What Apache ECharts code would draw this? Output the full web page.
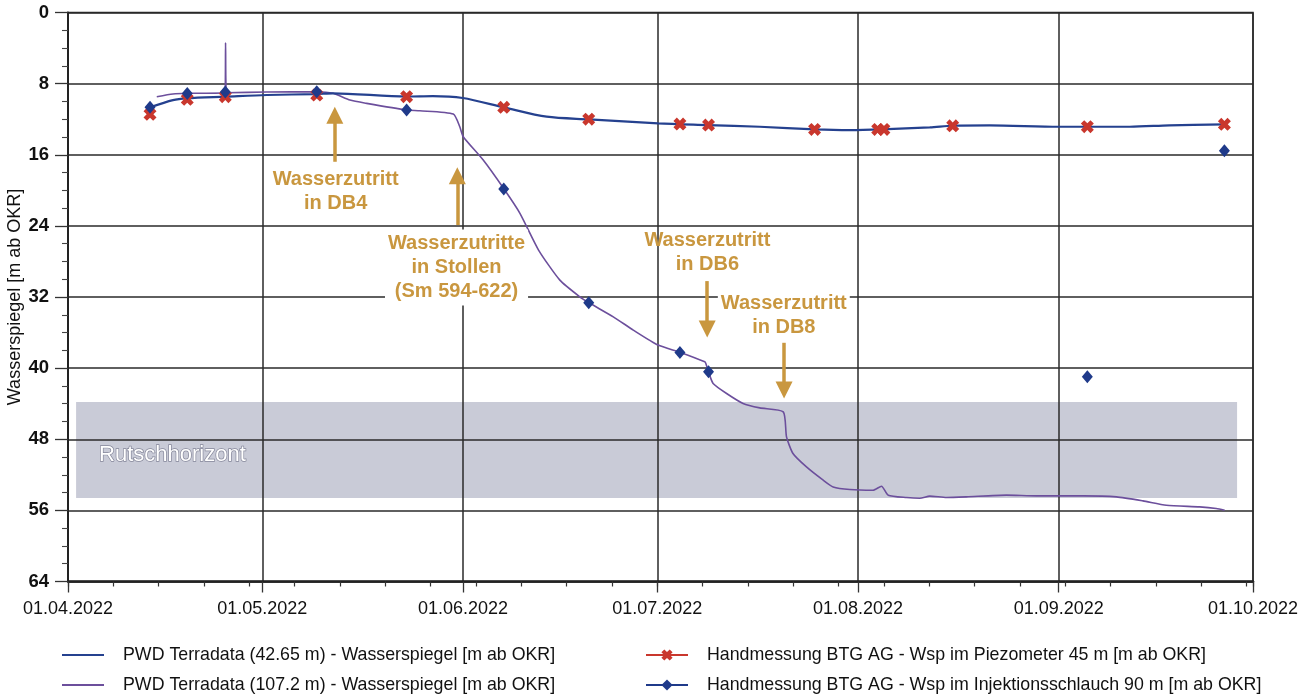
<!DOCTYPE html>
<html>
<head>
<meta charset="utf-8">
<script src="https://cdn.jsdelivr.net/npm/echarts@6/dist/echarts.min.js"></script>
<style>html,body{margin:0;padding:0;background:#fff}#c{width:1309px;height:698px}</style>
</head>
<body>
<div id="c"></div>
<script>
// ---------- data ----------
const xStart = '2022-04-01';
const xEnd = '2022-10-01';
const weekTickDays = 183;            // length of the weekly tick ruler (days from 01.04.2022)

const seriesNames = [
  'PWD Terradata (42.65 m) - Wasserspiegel [m ab OKR]',
  'PWD Terradata (107.2 m) - Wasserspiegel [m ab OKR]',
  'Handmessung BTG AG - Wsp im Piezometer 45 m [m ab OKR]',
  'Handmessung BTG AG - Wsp im Injektionsschlauch 90 m [m ab OKR]'
];

const pwd4265Dates = ['2022-04-13 16:00','2022-04-17 05:00','2022-04-19 09:00','2022-04-25 08:00','2022-05-01 17:00','2022-05-09 10:00','2022-05-11 22:00','2022-05-23 07:00','2022-05-27 08:00','2022-05-31 23:00','2022-06-07 08:00','2022-06-13 22:00','2022-06-20 11:00','2022-07-01 03:00','2022-07-08 19:00','2022-07-16 20:00','2022-07-25 08:00','2022-07-30 18:00','2022-08-04 16:00','2022-08-12 02:00','2022-08-15 15:00','2022-08-21 08:00','2022-09-01 00:00','2022-09-05 08:00','2022-09-11 23:00','2022-09-18 02:00','2022-09-26 15:00'];
const pwd4265Values = [10.67,9.85,9.65,9.47,9.28,9.17,9.09,9.45,9.40,9.62,10.67,11.72,12.02,12.47,12.66,12.85,13.14,13.22,13.14,12.92,12.74,12.69,12.85,12.85,12.85,12.69,12.58];

const pwd1072Dates = ['2022-04-14 17:00','2022-04-17 05:00','2022-04-19 09:00','2022-04-25 06:00','2022-04-25 08:00','2022-04-25 11:00','2022-05-01 16:00','2022-05-09 10:00','2022-05-11 23:00','2022-05-14 13:00','2022-05-17 03:00','2022-05-23 07:00','2022-05-25 08:00','2022-05-30 12:00','2022-05-31 12:00','2022-06-01 01:00','2022-06-04 03:00','2022-06-07 08:00','2022-06-09 19:00','2022-06-12 16:00','2022-06-15 23:00','2022-06-19 01:00','2022-06-20 11:00','2022-06-24 05:00','2022-06-27 07:00','2022-07-01 03:00','2022-07-04 14:00','2022-07-08 08:00','2022-07-08 12:00','2022-07-09 00:00','2022-07-09 15:00','2022-07-11 17:00','2022-07-14 06:00','2022-07-16 20:00','2022-07-20 11:00','2022-07-20 23:00','2022-07-21 23:00','2022-07-24 01:00','2022-07-26 15:00','2022-07-28 04:00','2022-07-30 18:00','2022-08-03 08:00','2022-08-04 15:00','2022-08-05 16:00','2022-08-08 12:00','2022-08-10 13:00','2022-08-12 02:00','2022-08-14 16:00','2022-08-17 18:00','2022-08-23 22:00','2022-08-28 13:00','2022-09-04 18:00','2022-09-09 22:00','2022-09-14 00:00','2022-09-17 15:00','2022-09-22 18:00','2022-09-25 08:00','2022-09-26 15:00'];
const pwd1072Values = [9.47,9.17,9.09,9.02,3.40,9.02,8.95,8.91,9.09,9.85,10.22,10.97,11.05,11.42,12.85,13.97,16.60,19.86,22.59,26.72,30.10,31.98,32.65,34.23,35.72,37.41,38.23,39.29,39.47,40.60,41.72,42.85,43.97,44.47,44.92,47.73,49.60,51.11,52.60,53.36,53.65,53.73,53.28,54.29,54.55,54.63,54.40,54.55,54.48,54.29,54.37,54.37,54.48,54.93,55.42,55.61,55.79,55.98];

const piezoDates = ['2022-04-13 16:00','2022-04-19 10:00','2022-04-25 07:00','2022-05-09 10:00','2022-05-23 07:00','2022-06-07 07:00','2022-06-20 10:00','2022-07-04 12:00','2022-07-08 22:00','2022-07-25 07:00','2022-08-04 01:00','2022-08-05 00:00','2022-08-15 15:00','2022-09-05 10:00','2022-09-26 14:00'];
const piezoValues = [11.45,9.77,9.47,9.28,9.47,10.67,12.00,12.55,12.66,13.15,13.15,13.15,12.74,12.85,12.58];

const injDates = ['2022-04-13 16:00','2022-04-19 10:00','2022-04-25 07:00','2022-05-09 10:00','2022-05-23 07:00','2022-06-07 07:00','2022-06-20 10:00','2022-07-04 12:00','2022-07-08 22:00','2022-09-05 10:00','2022-09-26 14:00'];
const injValues = [10.67,9.10,8.95,8.90,10.97,19.86,32.65,38.24,40.40,40.98,15.55];

// Rutschhorizont band
const bandName = 'Rutschhorizont';
const bandDates = ['2022-04-02 06:00','2022-09-28 13:00'];
const bandValues = [43.8, 54.6];

// annotations (arrows + texts)
const annoTexts = ['Wasserzutritt\nin DB4','Wasserzutritte\nin Stollen\n(Sm 594-622)','Wasserzutritt\nin DB6','Wasserzutritt\nin DB8'];
const arrowDates = ['2022-05-12 05:00','2022-05-31 03:00','2022-07-08 17:00','2022-07-20 14:00'];
const arrowFrom = [16.79, 23.91, 30.21, 37.15];
const arrowTo = [11.56, 18.37, 35.59, 42.45];
const textDates = ['2022-05-12 08:00','2022-05-31 00:00','2022-07-08 18:00','2022-07-20 13:00'];
const textValues = [20.16, 28.69, 27.0, 34.13];
const textOpaque = [false, true, false, true];

// ---------- styles ----------
const FONT = '"Liberation Sans", Arial, sans-serif';
const BLUE = '#25418f';
const PURPLE = '#6c4f9c';
const RED = '#c9372d';
const NAVY = '#1f3a8a';
const GOLD = '#c9973f';
const GRID = '#2a2a2a';
const XPATH = 'path://M0,2.6L2.6,0L5,2.4L7.4,0L10,2.6L7.6,5L10,7.4L7.4,10L5,7.6L2.6,10L0,7.4L2.4,5Z';
const LINEICON = 'path://M0,0L40,0L40,2L0,2Z';

const zip = (a, b) => a.map((d, i) => [d, b[i]]);
const gridRect = {left: 68, right: 56, top: 12.5, bottom: 116.5};

const chart = echarts.init(document.getElementById('c'), null, {renderer: 'canvas'});
const legendCommon = {
  top: 645, orient: 'vertical', padding: 0, itemWidth: 42, itemHeight: 14, itemGap: 10, selectedMode: false,
  textStyle: {fontSize: 17.8, color: '#111', padding: [0, 0, 0, 14], lineHeight: 20}
};
chart.setOption({
  animation: false,
  backgroundColor: '#fff',
  textStyle: {fontFamily: FONT},
  grid: [
    Object.assign({show: true, borderColor: GRID, borderWidth: 1.5, containLabel: false, outerBoundsMode: 'none'}, gridRect),
    Object.assign({show: false, containLabel: false, outerBoundsMode: 'none'}, gridRect)
  ],
  xAxis: [{
    type: 'time', min: xStart, max: xEnd, splitNumber: 6,
    axisLine: {show: true, onZero: false, lineStyle: {color: '#222', width: 2.5}},
    axisTick: {show: true, length: 11, lineStyle: {color: '#333', width: 1.3}},
    axisLabel: {formatter: '{dd}.{MM}.{yyyy}', fontSize: 18, color: '#111', margin: 19, showMinLabel: true, showMaxLabel: true, fontWeight: 'normal'},
    splitLine: {show: true, lineStyle: {color: GRID, width: 1.5}}
  }, {
    type: 'value', gridIndex: 1, min: 0, max: weekTickDays, interval: 7,
    axisLine: {show: false, onZero: false},
    axisTick: {show: true, length: 5, lineStyle: {color: '#333', width: 1.2}},
    axisLabel: {show: false},
    splitLine: {show: false}
  }],
  yAxis: [{
    type: 'value', inverse: true, min: 0, max: 64, interval: 8,
    name: 'Wasserspiegel [m ab OKR]', nameLocation: 'middle', nameGap: 44, nameRotate: 90,
    nameMoveOverlap: false,
    nameTextStyle: {fontSize: 18, color: '#111'},
    axisLine: {show: true, lineStyle: {color: '#222', width: 2}},
    axisTick: {show: true, length: 13, lineStyle: {color: '#333', width: 1.3}},
    minorTick: {show: true, splitNumber: 4, length: 6, lineStyle: {color: '#444', width: 1.1}},
    axisLabel: {fontSize: 18.5, fontWeight: 'bold', color: '#111', margin: 19},
    splitLine: {show: true, lineStyle: {color: GRID, width: 1.5}}
  }, {
    type: 'value', gridIndex: 1, show: false, min: 0, max: 1
  }],
  legend: [
    Object.assign({left: 62, data: [{name: seriesNames[0], icon: LINEICON}, {name: seriesNames[1], icon: LINEICON}]}, legendCommon),
    Object.assign({left: 645, data: [
      {name: seriesNames[2], lineStyle: {color: RED, width: 2, opacity: 1}},
      {name: seriesNames[3], lineStyle: {color: NAVY, width: 2, opacity: 1}}
    ]}, legendCommon)
  ],
  series: [{
    name: seriesNames[0], type: 'line', data: zip(pwd4265Dates, pwd4265Values),
    color: BLUE, symbol: 'none', smooth: 0.3, z: 4,
    lineStyle: {color: BLUE, width: 2.2}
  }, {
    name: seriesNames[1], type: 'line', data: zip(pwd1072Dates, pwd1072Values),
    color: PURPLE, symbol: 'none', smooth: 0.2, z: 3,
    lineStyle: {color: PURPLE, width: 1.6}
  }, {
    name: seriesNames[2], type: 'line', data: zip(piezoDates, piezoValues),
    color: RED, symbol: XPATH, symbolSize: 13, z: 5,
    itemStyle: {color: RED}, lineStyle: {width: 0, opacity: 0}
  }, {
    name: seriesNames[3], type: 'line', data: zip(injDates, injValues),
    color: NAVY, symbol: 'diamond', symbolSize: [11, 13], z: 6,
    itemStyle: {color: NAVY}, lineStyle: {width: 0, opacity: 0}
  }, {
    type: 'line', data: [], silent: true,
    markArea: {
      z: -1, silent: true,
      itemStyle: {color: '#c9cbd7'},
      label: {show: true, position: 'insideLeft', distance: 23, offset: [0, 5], formatter: '{b}',
        color: '#ffffff', fontSize: 22, textBorderColor: '#85879a', textBorderWidth: 1.4},
      data: [[{name: bandName, coord: [bandDates[0], bandValues[0]]}, {coord: [bandDates[1], bandValues[1]]}]]
    },
    markLine: {
      silent: true, symbol: ['none', 'triangle'], symbolSize: 17,
      lineStyle: {color: GOLD, width: 3.5, type: 'solid'},
      itemStyle: {color: GOLD},
      label: {show: false},
      emphasis: {disabled: true},
      data: arrowDates.map((d, i) => [{coord: [d, arrowFrom[i]]}, {coord: [d, arrowTo[i]]}])
    },
    markPoint: {
      silent: true, symbol: 'rect', symbolSize: 1, itemStyle: {color: 'rgba(0,0,0,0)'},
      label: {show: true, position: 'inside', formatter: '{b}', color: GOLD, fontSize: 20,
        fontWeight: 'bold', lineHeight: 24, align: 'center'},
      data: annoTexts.map((t, i) => ({
        name: t, coord: [textDates[i], textValues[i]],
        label: textOpaque[i] ? {backgroundColor: '#ffffff', padding: [2, 3]} : {}
      }))
    }
  }]
});
</script>
</body>
</html>
